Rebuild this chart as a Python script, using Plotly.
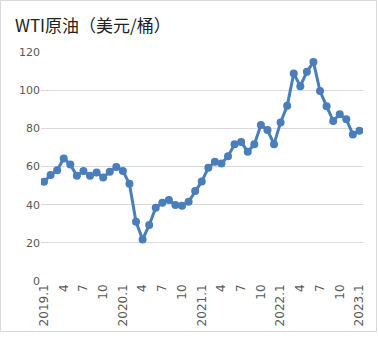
import plotly.graph_objects as go

years = [2019, 2020, 2021, 2022, 2023]
months = [f"{y}.{m}" for y in years for m in range(1, 13)][:49]
prices = [52.0, 55.5, 58.1, 64.2, 61.1, 55.1, 57.6, 55.1, 56.9, 54.3, 57.2, 59.8,
          57.7, 50.9, 31.0, 21.8, 29.3, 38.4, 41.0, 42.4, 39.8, 39.4, 41.5, 47.1,
          52.2, 59.3, 62.5, 61.6, 65.4, 71.6, 72.9, 67.7, 71.6, 81.7, 79.1, 71.7,
          83.1, 91.8, 108.7, 102.1, 109.6, 114.8, 99.5, 91.6, 83.9, 87.4, 84.7, 76.8,
          78.7]
tick_vals = months[::3]
tick_text = [m if m.endswith(".1") else m.split(".")[1] for m in tick_vals]
y_ticks = [0, 20, 40, 60, 80, 100, 120]

W, H = 378, 346
ml, mr, mt, mb = 41, 15, 52, 65
pw, ph = W - ml - mr, H - mt - mb

fig = go.Figure(go.Scatter(
    x=months, y=prices, mode="lines+markers",
    line=dict(color="#4A7EBB", width=3),
    marker=dict(color="#4A7EBB", size=8),
))
fig.update_layout(
    width=W, height=H,
    margin=dict(l=ml, r=mr, t=mt, b=mb),
    paper_bgcolor="white", plot_bgcolor="white",
    showlegend=False,
    font=dict(family="Noto Sans CJK SC, sans-serif", color="#595959", size=11),
    title=dict(text="WTI原油（美元/桶）", x=15 / W, xanchor="left",
               y=1 - 26 / H, yanchor="middle",
               font=dict(size=17, color="#222222",
                         family="Noto Sans CJK SC, sans-serif")),
    xaxis=dict(type="category", range=[-0.46, 48.54], tickmode="array",
               tickvals=tick_vals, ticktext=tick_text, tickangle=-90,
               showgrid=False, zeroline=False, showline=False, ticks="",
               tickfont=dict(family="DejaVu Sans, sans-serif", size=12,
                             color="#595959")),
    yaxis=dict(range=[0, 120], tickvals=y_ticks, showgrid=True,
               gridcolor="#D9D9D9", gridwidth=1, zeroline=False,
               showline=False, ticks="",
               tickfont=dict(family="DejaVu Sans, sans-serif", size=11,
                             color="#595959")),
    shapes=[dict(type="rect", xref="paper", yref="paper",
                 x0=(0.5 - ml) / pw, x1=(W - 1.5 - ml) / pw,
                 y0=(ph + mb - (H - 1.5)) / ph - 0, y1=(ph + mt - 0.5) / ph,
                 line=dict(color="#D9D9D9", width=1), layer="below")],
)
fig.write_html("out.html")
